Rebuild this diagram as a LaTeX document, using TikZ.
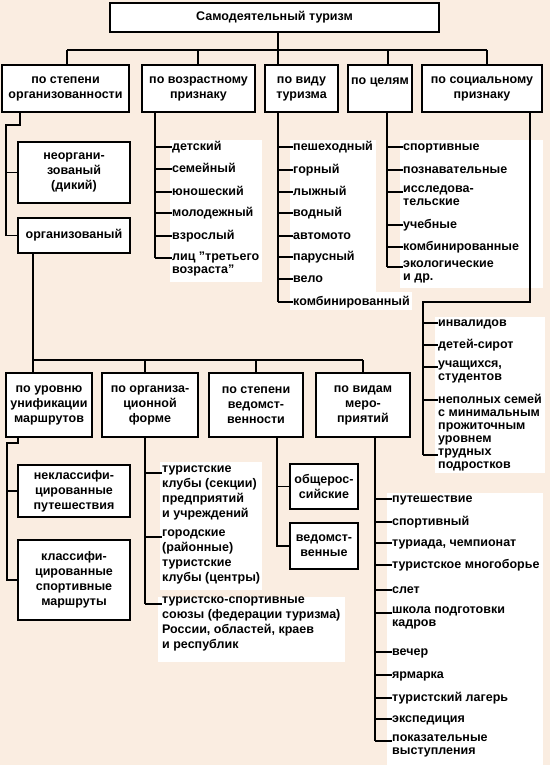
\documentclass[tikz,border=0pt]{standalone}
\usepackage{fontspec}
\setmainfont{Liberation Sans}
\definecolor{bg}{HTML}{FAEDE1}
\newcommand\boxfont{\bfseries\fontsize{12.5}{15}\selectfont}
\newcommand\itemfont{\bfseries\fontsize{12.5}{13}\selectfont}
\newcommand\itemfontw{\bfseries\fontsize{12.5}{15}\selectfont}
\begin{document}
\begin{tikzpicture}[x=1pt,y=-1pt,
 box/.style={draw, line width=1.8pt, fill=white, align=center, font=\boxfont, inner sep=0pt},
 item/.style={anchor=north west, align=left, inner sep=0pt, font=\itemfont, execute at begin node=\strut},
 conn/.style={line width=1.3pt},
 panel/.style={fill=white}]
\fill[bg] (0,0) rectangle (550,765);
\useasboundingbox (0,0) rectangle (550,765);
% white panels behind lists
\fill[panel] (170,140) rectangle (262,282);
\fill[panel] (290,140) rectangle (376,292);
\fill[panel] (290,292) rectangle (412,310);
\fill[panel] (400,140) rectangle (543,288);
\fill[panel] (435,317) rectangle (545,473);
\fill[panel] (160,462) rectangle (262,590);
\fill[panel] (158,597) rectangle (345,662);
\fill[panel] (387,493) rectangle (543,765);
% top level
\node[box, minimum width=329pt, minimum height=29pt] (T) at (274.5,17.5) {Самодеятельный туризм};
\node[box, minimum width=127pt, minimum height=47pt] (A1) at (65.5,88.5) {по степени\\организованности};
\node[box, minimum width=113pt, minimum height=47pt] (A2) at (198.5,88.5) {по возрастному\\признаку};
\node[box, minimum width=73pt, minimum height=47pt] (A3) at (301.5,88.5) {по виду\\туризма};
\node[box, minimum width=64pt, minimum height=47pt] (A4) at (380,88.5) {по целям\\\mbox{}};
\node[box, minimum width=120pt, minimum height=47pt] (A5) at (482,88.5) {по социальному\\признаку};
\coordinate (b1) at (67,50);
\coordinate (b2) at (198,50);
\coordinate (b3) at (278,50);
\coordinate (b4) at (388,50);
\coordinate (b5) at (487,50);
\draw[conn] (b1) -- (b5);
\draw[conn] (T.south -| b3) -- (A3.north -| b3);
\foreach \b/\n in {b1/A1,b2/A2,b4/A4,b5/A5} \draw[conn] (\b) -- (\b |- \n.north);
% by organisation
\node[box, minimum width=112pt, minimum height=61pt] (B1) at (74,172.5) {неоргани-\\зованый\\(дикий)};
\node[box, minimum width=112pt, minimum height=35pt] (B2) at (74,235.5) {организованый};
\coordinate (k1) at (20,125);
\coordinate (k2) at (6,125);
\draw[conn] (A1.south -| k1) -- (k1) -- (k2) -- (k2 |- B2.west) -- (B2.west);
\draw[conn] (k2 |- B1.west) -- (B1.west);
% second level
\node[box, minimum width=86pt, minimum height=64pt] (C1) at (49,405) {по уровню\\унификации\\маршрутов};
\node[box, minimum width=96pt, minimum height=64pt] (C2) at (150,405) {по организа-\\ционной\\форме};
\node[box, minimum width=94pt, minimum height=64pt] (C3) at (256,405) {по степени\\ведомст-\\венности};
\node[box, minimum width=94pt, minimum height=64pt] (C4) at (363,405) {по видам\\меро-\\приятий};
\coordinate (c1) at (33,360);
\coordinate (c2) at (145,360);
\coordinate (c3) at (256,360);
\coordinate (c4) at (363,360);
\draw[conn] (B2.south -| c1) -- (c1) -- (c4);
\foreach \b/\n in {c1/C1,c2/C2,c3/C3,c4/C4} \draw[conn] (\b) -- (\b |- \n.north);
% routes
\node[box, minimum width=112pt, minimum height=52pt] (D1) at (74,491) {некласси\-фи-\\цированные\\путешествия};
\node[box, minimum width=112pt, minimum height=80pt] (D2) at (74,580) {класси\-фи-\\цированные\\спортивные\\маршруты};
\coordinate (k3) at (18,443);
\coordinate (k4) at (7,443);
\draw[conn] (C1.south -| k3) -- (k3) -- (k4) -- (k4 |- D2.west) -- (D2.west);
\draw[conn] (k4 |- D1.west) -- (D1.west);
% departmental
\node[box, minimum width=68pt, minimum height=45pt] (E1) at (324,486.5) {общерос-\\сийские};
\node[box, minimum width=68pt, minimum height=46pt] (E2) at (324,546) {ведомст-\\венные};
\coordinate (k5) at (277,437);
\draw[conn] (C3.south -| k5) -- (k5 |- E2.west) -- (E2.west);
\draw[conn] (k5 |- E1.west) -- (E1.west);
% age list
\coordinate (tA2) at (155,112);
\foreach \y/\txt [count=\k] in {147/детский,169/семейный,192/юношеский,213/молодежный,236/взрослый,258/{лиц "третьего\\возраста"}}{
  \node[item] (a2i\k) at (172,\y-6) {\txt};
  \coordinate (a2b\k) at ([yshift=-6pt]a2i\k.north west);
  \draw[conn] (tA2 |- a2b\k) -- (a2b\k);
}
\draw[conn] (A2.south -| tA2) -- (tA2 |- a2b6);
% kind list
\coordinate (tA3) at (278,112);
\foreach \y/\txt [count=\k] in {147/пешеходный,170/горный,192/лыжный,213/водный,236/автомото,257/парусный,279/вело,302/комбинированный}{
  \node[item] (a3i\k) at (293,\y-6) {\txt};
  \coordinate (a3b\k) at ([yshift=-6pt]a3i\k.north west);
  \draw[conn] (tA3 |- a3b\k) -- (a3b\k);
}
\draw[conn] (A3.south -| tA3) -- (tA3 |- a3b8);
% goals list
\coordinate (tA4) at (387,112);
\foreach \y/\txt [count=\k] in {147/спортивные,170/познавательные,192/{исследова-\\тельские},225/учебные,247/комбинированные,267/{экологические\\и др.}}{
  \node[item] (a4i\k) at (403,\y-6) {\txt};
  \coordinate (a4b\k) at ([yshift=-6pt]a4i\k.north west);
  \draw[conn] (tA4 |- a4b\k) -- (a4b\k);
}
\draw[conn] (A4.south -| tA4) -- (tA4 |- a4b6);
% social list
\coordinate (k6) at (530,302);
\coordinate (k7) at (423,302);
\foreach \y/\txt [count=\k] in {323/инвалидов,345/детей-сирот,367/{учащихся,\\студентов},400/{неполных семей\\с минимальным\\прожиточным\\уровнем},455/{трудных\\подростков}}{
  \node[item] (a5i\k) at (438,\y-6) {\txt};
  \coordinate (a5b\k) at ([yshift=-6pt]a5i\k.north west);
  \draw[conn] (k7 |- a5b\k) -- (a5b\k);
}
\draw[conn] (A5.south -| k6) -- (k6) -- (k7) -- (k7 |- a5b5);
% organisational form list
\coordinate (tC2) at (145,437);
\foreach \y/\txt [count=\k] in {473/{туристские\\клубы (секции)\\предприятий\\и учреждений},537/{городские\\(районные)\\туристские\\клубы (центры)},604/{туристско-спортивные\\союзы (федерации туризма)\\России, областей, краев\\и республик}}{
  \node[item, font=\itemfontw] (c2i\k) at (162,\y-7) {\txt};
  \coordinate (c2b\k) at ([yshift=-7pt]c2i\k.north west);
  \draw[conn] (tC2 |- c2b\k) -- (c2b\k);
}
\draw[conn] (C2.south -| tC2) -- (tC2 |- c2b3);
% events list
\coordinate (tC4) at (375,437);
\foreach \y/\txt [count=\k] in {499/путешествие,522/спортивный,543/{туриада, чемпионат},565/туристское многоборье,590/слет,613/{школа подготовки\\кадров},652/вечер,675/ярмарка,698/туристский лагерь,719/экспедиция,741/{показательные\\выступления}}{
  \node[item] (c4i\k) at (392,\y-6) {\txt};
  \coordinate (c4b\k) at ([yshift=-6pt]c4i\k.north west);
  \draw[conn] (tC4 |- c4b\k) -- (c4b\k);
}
\draw[conn] (C4.south -| tC4) -- (tC4 |- c4b11);
\end{tikzpicture}
\end{document}
